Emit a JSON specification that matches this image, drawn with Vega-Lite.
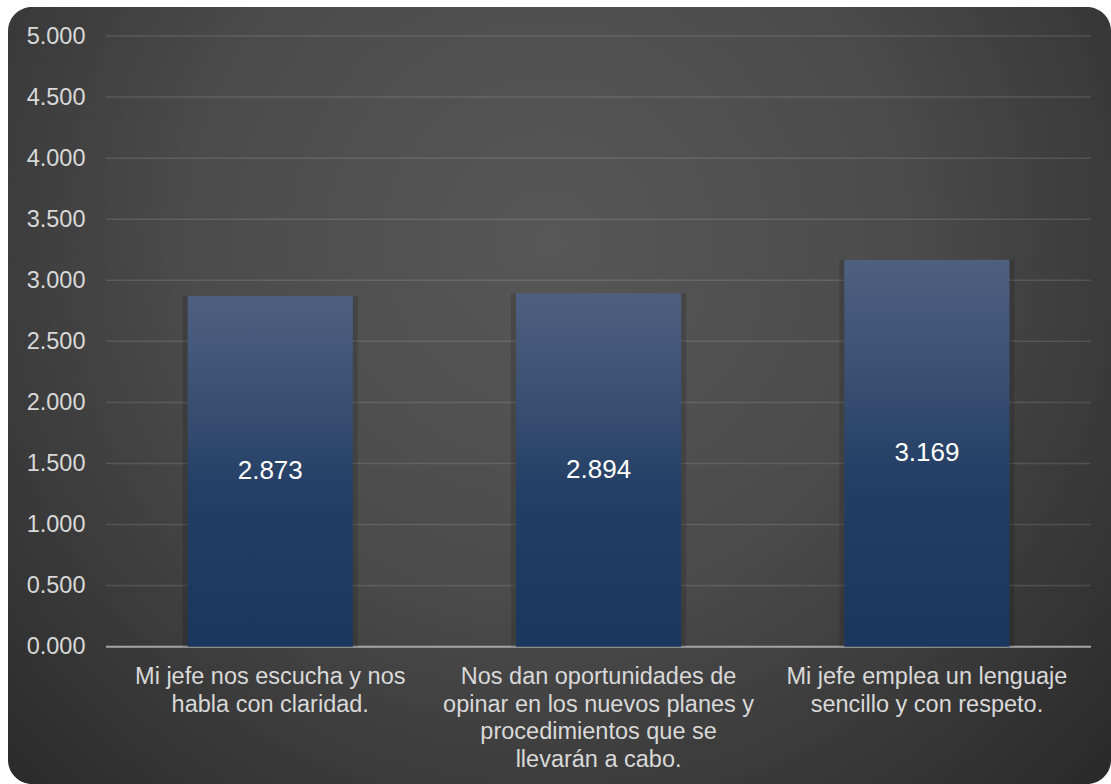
{
  "$schema": "https://vega.github.io/schema/vega-lite/v6.json",
  "width": 1103,
  "height": 777,
  "autosize": {"type": "none"},
  "padding": {"left": 8, "top": 7, "right": 0, "bottom": 0},
  "background": "#ffffff",
  "view": {
    "fill": {
      "gradient": "radial",
      "x1": 0.49, "y1": 0.36, "r1": 0,
      "x2": 0.49, "y2": 0.36, "r2": 0.72,
      "stops": [
        {"offset": 0, "color": "#575757"},
        {"offset": 0.45, "color": "#4b4b4b"},
        {"offset": 1, "color": "#282828"}
      ]
    },
    "cornerRadius": 24,
    "stroke": null
  },
  "config": {"font": "Liberation Sans"},
  "datasets": {
    "barras": [
      {"pregunta": "Mi jefe nos escucha y nos habla con claridad.", "valor": 2.873},
      {"pregunta": "Nos dan oportunidades de opinar en los nuevos planes y procedimientos que se llevarán a cabo.", "valor": 2.894},
      {"pregunta": "Mi jefe emplea un lenguaje sencillo y con respeto.", "valor": 3.169}
    ],
    "rejilla": [
      {"v": 0.5}, {"v": 1}, {"v": 1.5}, {"v": 2}, {"v": 2.5},
      {"v": 3}, {"v": 3.5}, {"v": 4}, {"v": 4.5}, {"v": 5}
    ],
    "base": [{"v": 0}]
  },
  "layer": [
    {
      "data": {"name": "rejilla"},
      "mark": {"type": "rule", "color": "#ffffff", "strokeOpacity": 0.12, "strokeWidth": 1.5},
      "encoding": {
        "x": {"datum": 0, "type": "quantitative", "scale": {"domain": [-0.29848, 3.0609], "nice": false, "zero": false}, "axis": null},
        "x2": {"datum": 3},
        "y": {
          "field": "v", "type": "quantitative",
          "scale": {"domain": [-1.1245, 5.2375], "nice": false, "zero": false},
          "axis": {
            "orient": "left", "offset": -98,
            "values": [0, 0.5, 1, 1.5, 2, 2.5, 3, 3.5, 4, 4.5, 5],
            "format": ".3f", "domain": false, "ticks": false, "grid": false,
            "labelPadding": 21, "labelFontSize": 23.5, "labelColor": "#d9d9d9",
            "labelFont": "Liberation Sans", "labelOverlap": false, "labelBound": false,
            "labelFlush": false, "title": null
          }
        }
      }
    },
    {
      "data": {"name": "base"},
      "mark": {"type": "rule", "color": "#a6a6a6", "strokeWidth": 2},
      "encoding": {
        "x": {"datum": 0, "type": "quantitative", "scale": {"domain": [-0.29848, 3.0609], "nice": false, "zero": false}, "axis": null},
        "x2": {"datum": 3},
        "y": {"field": "v", "type": "quantitative", "scale": {"domain": [-1.1245, 5.2375], "nice": false, "zero": false}}
      }
    },
    {
      "data": {"name": "barras"},
      "encoding": {
        "x": {
          "field": "pregunta", "type": "nominal", "sort": null,
          "scale": {"paddingInner": 0.497, "paddingOuter": 0.4282, "align": 0.639},
          "axis": {
            "orient": "bottom", "offset": -137.3, "domain": false, "ticks": false, "grid": false,
            "labelAngle": 0, "labelPadding": 18, "labelFontSize": 23.5, "labelLineHeight": 27.5,
            "labelColor": "#d9d9d9", "labelFont": "Liberation Sans", "labelLimit": 1000,
            "labelOverlap": false, "labelBound": false, "title": null,
            "labelExpr": "datum.value == 'Mi jefe nos escucha y nos habla con claridad.' ? ['Mi jefe nos escucha y nos', 'habla con claridad.'] : datum.value == 'Mi jefe emplea un lenguaje sencillo y con respeto.' ? ['Mi jefe emplea un lenguaje', 'sencillo y con respeto.'] : ['Nos dan oportunidades de', 'opinar en los nuevos planes y', 'procedimientos que se', 'llevarán a cabo.']"
          }
        },
        "y": {"field": "valor", "type": "quantitative", "scale": {"domain": [-1.1245, 5.2375], "nice": false, "zero": false}}
      },
      "layer": [
        {"mark": {"type": "bar", "color": "#000000", "opacity": 0.14, "width": {"band": 1.06}}},
        {
          "mark": {
            "type": "bar",
            "color": {
              "gradient": "linear", "x1": 0, "y1": 0, "x2": 0, "y2": 1,
              "stops": [
                {"offset": 0, "color": "#4e6080"},
                {"offset": 0.3, "color": "#3a5072"},
                {"offset": 0.55, "color": "#243f66"},
                {"offset": 1, "color": "#1b365d"}
              ]
            }
          }
        },
        {
          "transform": [{"calculate": "datum.valor / 2", "as": "medio"}],
          "mark": {"type": "text", "fontSize": 26, "color": "#ffffff", "baseline": "middle", "align": "center", "font": "Liberation Sans"},
          "encoding": {
            "y": {"field": "medio", "type": "quantitative", "scale": {"domain": [-1.1245, 5.2375], "nice": false, "zero": false}},
            "text": {"field": "valor", "type": "quantitative", "format": ".3f"}
          }
        }
      ]
    }
  ],
  "resolve": {"scale": {"x": "independent"}, "axis": {"x": "independent"}}
}
